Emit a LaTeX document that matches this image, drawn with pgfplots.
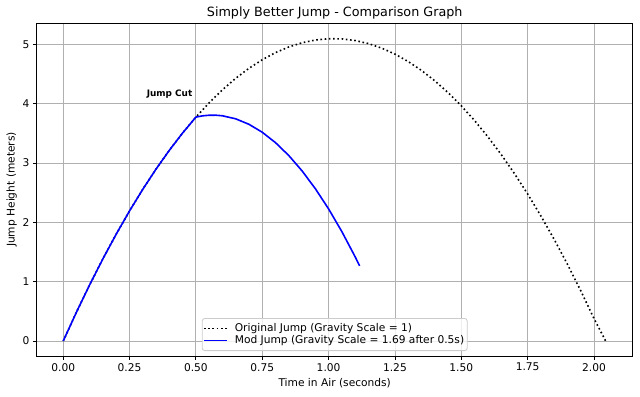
\documentclass[border=0pt]{standalone}
\usepackage{fontspec}
\setmainfont{DejaVu Sans}
\usepackage{pgfplots}
\pgfplotsset{compat=1.18}
\definecolor{gridgray}{HTML}{B0B0B0}
\definecolor{legedge}{HTML}{CCCCCC}
\begin{document}
\begin{tikzpicture}
\begin{axis}[
  scale only axis,
  width=596bp, height=333bp,
  xmin=-0.100, xmax=2.146,
  ymin=-0.253, ymax=5.36,
  xtick={0,0.25,0.5,0.75,1,1.25,1.5,1.75,2},
  xticklabels={0.00,0.25,0.50,0.75,1.00,1.25,1.50,1.75,2.00},
  ytick={0,1,2,3,4,5},
  yticklabels={0,1,2,3,4,5},
  /pgf/number format/assume math mode=true,
  tick align=outside,
  major tick length=3.7bp,
  tick style={line width=0.85bp, black},
  axis line style={line width=0.85bp},
  xtick pos=bottom, ytick pos=left,
  grid=major,
  major grid style={line width=0.85bp, gridgray},
  ticklabel style={font=\fontsize{10.65bp}{12.5bp}\selectfont},
  xlabel={Time in Air (seconds)},
  ylabel={Jump Height (meters)},
  label style={font=\fontsize{10.65bp}{12.5bp}\selectfont},
  ylabel style={yshift=-1bp},
  title={Simply Better Jump - Comparison Graph},
  every axis title shift=0pt,
  title style={font=\fontsize{12.75bp}{15bp}\selectfont, at={(0.5,1)}, anchor=base, yshift=6.3bp},
  legend style={at={(0.5,0.015)}, anchor=south, draw=legedge, line width=0.85bp,
    rounded corners=2.5bp, fill=white, fill opacity=0.8, text opacity=1,
    font=\fontsize{10.65bp}{12.5bp}\selectfont, inner xsep=1bp, inner ysep=4bp, row sep=0.5bp,
    nodes={inner xsep=2bp, inner ysep=0.5bp, text height=8.3bp, text depth=2.5bp},
    /tikz/every odd column/.append style={column sep=5.3bp}},
  legend cell align=left,
  legend image code/.code={\draw[line width=1.6bp,#1] (0bp,0bp) -- (22.7bp,0bp);},
]
\addplot[black, line width=1.6bp, dash pattern=on 1.6bp off 2.64bp] coordinates {
(0,0) (0.05,0.4877) (0.1,0.9510) (0.15,1.3896) (0.2,1.8038) (0.25,2.1934)
(0.3,2.5586) (0.35,2.8991) (0.4,3.2152) (0.45,3.5067) (0.5,3.7738)
(0.55,4.0162) (0.6,4.2342) (0.65,4.4276) (0.7,4.5966) (0.75,4.7409)
(0.8,4.8608) (0.85,4.9561) (0.9,5.0270) (0.95,5.0732) (1.0,5.0950)
(1.05,5.0922) (1.1,5.0650) (1.15,5.0131) (1.2,4.9368) (1.25,4.8359)
(1.3,4.7106) (1.35,4.5606) (1.4,4.3862) (1.45,4.1872) (1.5,3.9638)
(1.55,3.7157) (1.6,3.4432) (1.65,3.1461) (1.7,2.8246) (1.75,2.4784)
(1.8,2.1078) (1.85,1.7126) (1.9,1.2930) (1.95,0.8487) (2.0,0.3800) (2.044,0)
};
\addlegendentry{Original Jump (Gravity Scale = 1)}
\addplot[blue, line width=1.6bp] coordinates {
(0,0) (0.05,0.4877) (0.1,0.9510) (0.15,1.3896) (0.2,1.8038) (0.25,2.1934)
(0.3,2.5586) (0.35,2.8991) (0.4,3.2152) (0.45,3.5067) (0.5,3.7738)
(0.525,3.7949) (0.55,3.8056) (0.575,3.8059) (0.6,3.7959) (0.65,3.7448)
(0.7,3.6522) (0.75,3.5182) (0.8,3.3427) (0.85,3.1258) (0.9,2.8674)
(0.95,2.5676) (1.0,2.2263) (1.05,1.8436) (1.1,1.4194) (1.117,1.2657)
};
\addlegendentry{Mod Jump (Gravity Scale = 1.69 after 0.5s)}
\node[anchor=base west, inner sep=0pt, font=\fontsize{8.9bp}{10bp}\selectfont\bfseries] at (axis cs:0.314,4.12) {Jump Cut};
\coordinate (SW) at (rel axis cs:0,0);
\coordinate (NE) at (rel axis cs:1,1);
\end{axis}
\pgfresetboundingbox
\useasboundingbox ([shift={(-36.7bp,-41bp)}]SW) rectangle ([shift={(7.3bp,23bp)}]NE);
\end{tikzpicture}
\end{document}
